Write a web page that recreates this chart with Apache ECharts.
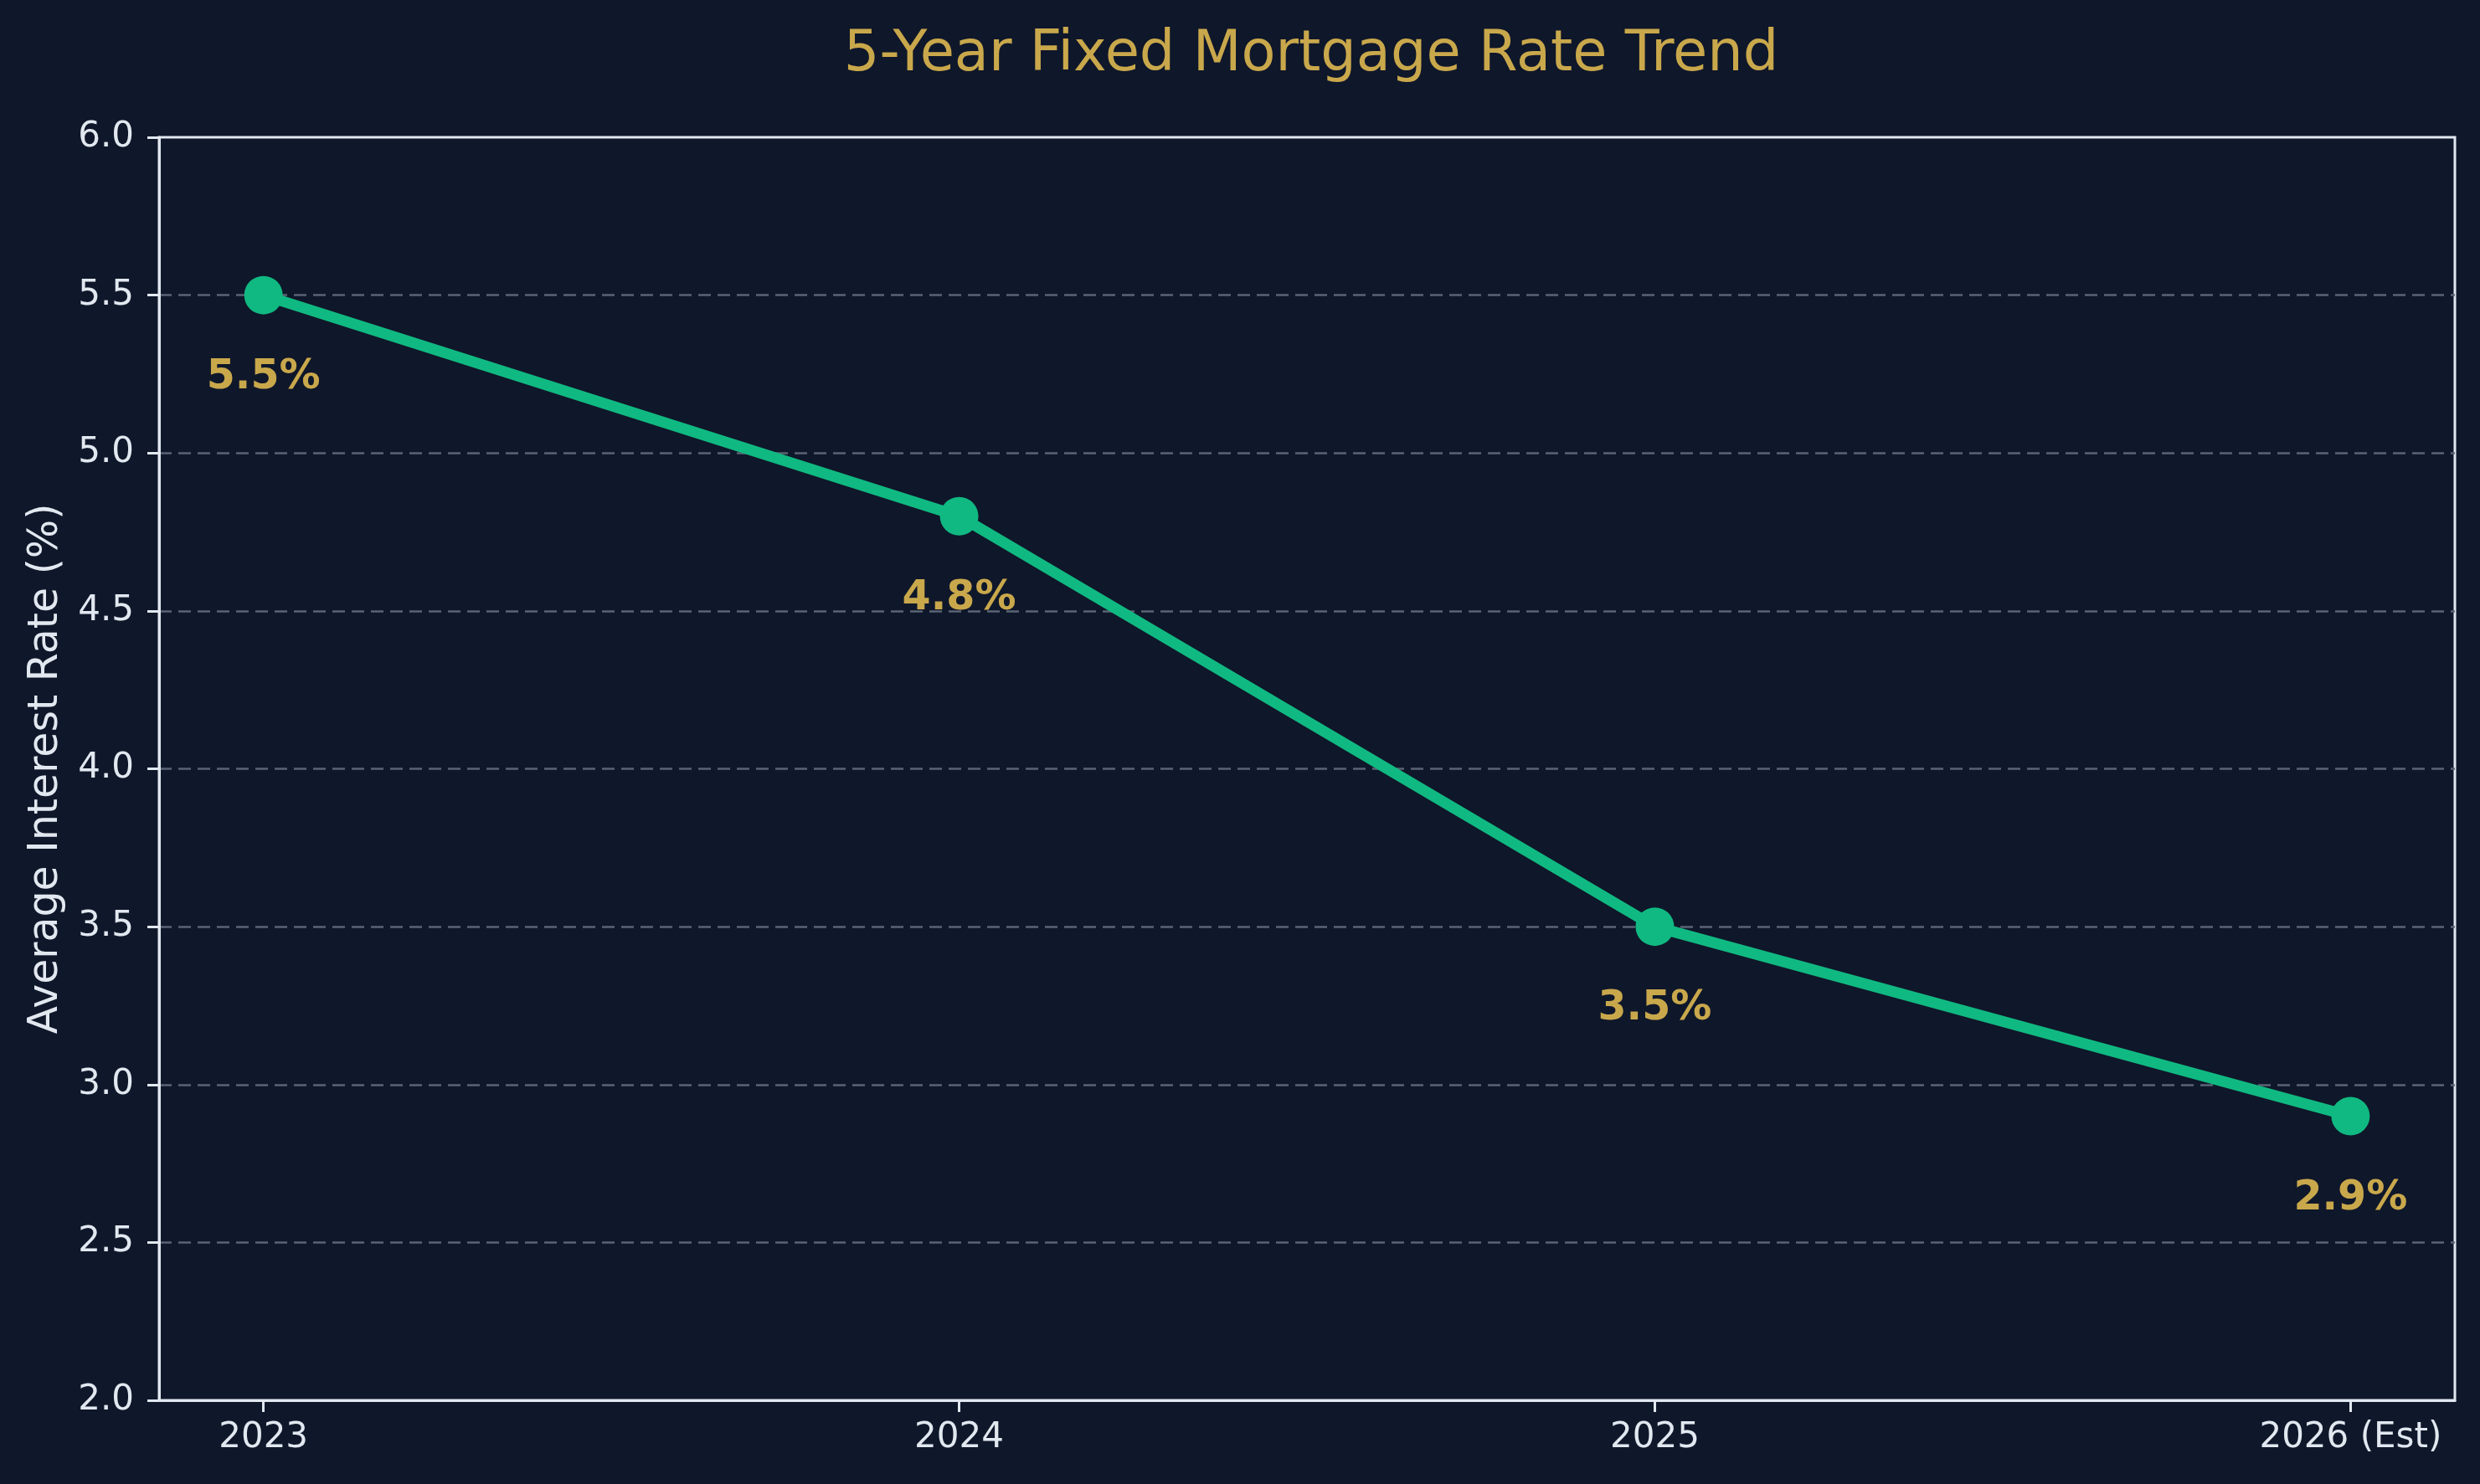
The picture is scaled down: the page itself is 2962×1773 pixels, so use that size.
<!DOCTYPE html>
<html>
<head>
<meta charset="utf-8">
<title>5-Year Fixed Mortgage Rate Trend</title>
<script src="https://cdn.jsdelivr.net/npm/echarts@6/dist/echarts.min.js"></script>
<style>
    html, body { margin: 0; padding: 0; background: #0f172a; }
    #rate_trend { width: 2962px; height: 1773px; }
</style>
</head>
<body>
<div id="rate_trend"></div>
<script>
// 数据
var years = ['2023', '2024', '2025', '2026 (Est)'];
var rates = [5.5, 4.8, 3.5, 2.9];
var yTicks = [2.0, 2.5, 3.0, 3.5, 4.0, 4.5, 5.0, 5.5, 6.0];

var myChart = echarts.init(document.getElementById("rate_trend"));

// x 用数值轴 (下标)，两边留 0.15 的空白，跟原图一样
var points = [];
rates.forEach(function (v, i) {
    points.push([i, v]);
});
var xIdx = years.map(function (_, i) { return i; });

var textColor = '#e2e8f0';
var gold = '#c9a84c';

var option = {
    backgroundColor: '#0f172a',
    textStyle: { fontFamily: 'DejaVu Sans' },
    title: {
        text: '5-Year Fixed Mortgage Rate Trend',
        left: 1561,
        textAlign: 'center',
        top: 28,
        textStyle: {
            color: gold,
            fontSize: 67,
            fontWeight: 'normal',
            fontFamily: 'DejaVu Sans'
        }
    },
    grid: {
        left: 190,
        right: 30,
        top: 164,
        bottom: 100,
        show: true,
        borderColor: textColor,
        borderWidth: 3,
        backgroundColor: 'transparent'
    },
    xAxis: {
        type: 'value',
        min: -0.15,
        max: 3.15,
        axisLine: { show: true, onZero: false, lineStyle: { color: textColor, width: 3 } },
        axisTick: {
            show: true,
            customValues: xIdx,
            length: 14,
            lineStyle: { color: textColor, width: 3 }
        },
        axisLabel: {
            customValues: xIdx,
            margin: 24,
            color: textColor,
            fontSize: 42,
            fontFamily: 'DejaVu Sans',
            formatter: function (v) { return years[Math.round(v)]; }
        },
        splitLine: { show: false }
    },
    yAxis: {
        type: 'value',
        min: 2,
        max: 6,
        interval: 0.5,
        name: 'Average Interest Rate (%)',
        nameLocation: 'middle',
        nameGap: 110,
        nameTextStyle: { color: textColor, fontSize: 49, fontFamily: 'DejaVu Sans' },
        axisLine: { show: true, onZero: false, lineStyle: { color: textColor, width: 3 } },
        axisTick: { show: true, length: 14, lineStyle: { color: textColor, width: 3 } },
        axisLabel: {
            margin: 30,
            color: textColor,
            fontSize: 42,
            fontFamily: 'DejaVu Sans',
            formatter: function (v) { return v.toFixed(1); }
        },
        splitLine: {
            show: true,
            showMinLine: false,
            showMaxLine: false,
            lineStyle: { color: '#5b6474', width: 2.5, type: [15, 8] }
        }
    },
    series: [
        {
            name: 'rate',
            type: 'line',
            data: points,
            symbol: 'circle',
            symbolSize: 46,
            lineStyle: { color: '#10b981', width: 13 },
            itemStyle: { color: '#10b981' },
            label: {
                show: true,
                position: 'bottom',
                distance: 51,
                color: gold,
                fontSize: 49,
                fontWeight: 'bold',
                fontFamily: 'DejaVu Sans',
                formatter: function (p) { return p.value[1].toFixed(1) + '%'; }
            },
            animation: false
        }
    ],
    animation: false
};
myChart.setOption(option);
window.addEventListener("resize", function () {
    myChart.resize();
});
</script>
</body>
</html>
